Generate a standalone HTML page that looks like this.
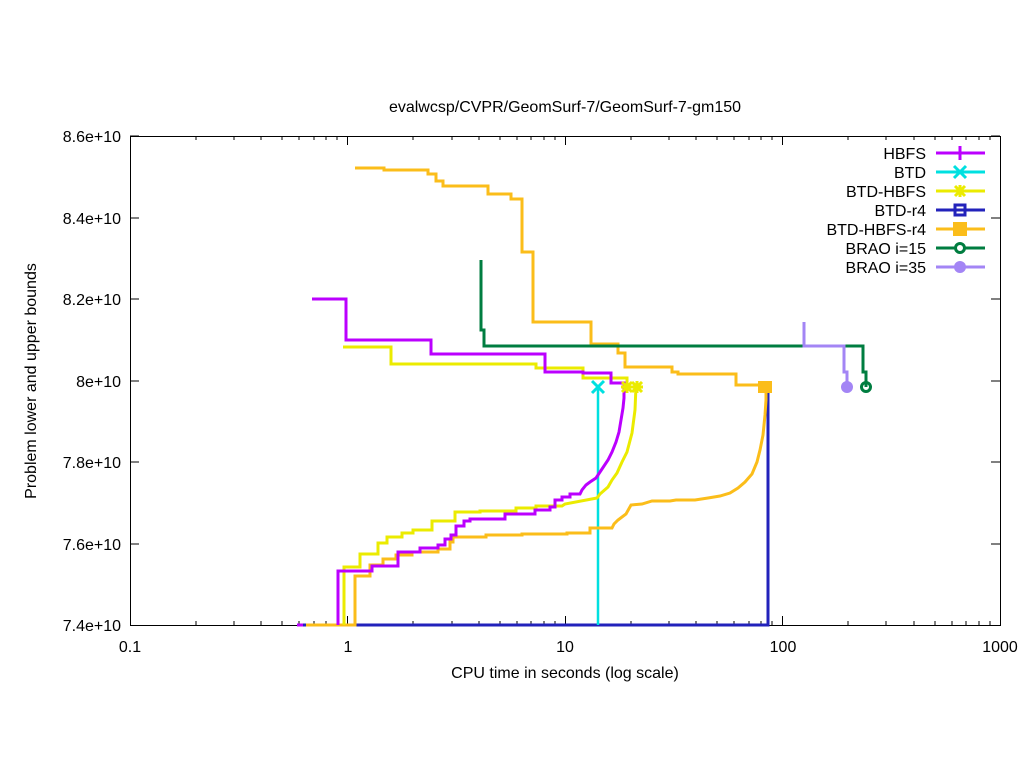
<!DOCTYPE html>
<html><head><meta charset="utf-8"><style>
body{margin:0;background:#fff}
svg{font-family:"Liberation Sans",sans-serif;font-size:16px}
</style></head><body>
<svg width="1024" height="768" xmlns="http://www.w3.org/2000/svg">
<rect width="1024" height="768" fill="#fff"/>
<g stroke="#000" stroke-width="1" fill="none">
<rect x="130.5" y="136.5" width="870" height="489"/>
<path d="M130,136h9M130,218h9M130,299h9M130,381h9M130,462h9M130,544h9M1000,136h-9M1000,218h-9M1000,299h-9M1000,381h-9M1000,462h-9M1000,544h-9"/>
<path d="M130.5,625v-9M347.5,625v-9M565.5,625v-9M782.5,625v-9M1000.5,625v-9M130.5,136v9M347.5,136v9M565.5,136v9M782.5,136v9"/>
<path d="M196,625v-4M234,625v-4M261,625v-4M282,625v-4M299,625v-4M314,625v-4M326,625v-4M337,625v-4M413,625v-4M452,625v-4M479,625v-4M500,625v-4M517,625v-4M531,625v-4M544,625v-4M555,625v-4M631,625v-4M669,625v-4M696,625v-4M717,625v-4M734,625v-4M749,625v-4M761,625v-4M772,625v-4M848,625v-4M886,625v-4M914,625v-4M935,625v-4M952,625v-4M966,625v-4M979,625v-4M990,625v-4
M196,136v4M234,136v4M261,136v4M282,136v4M299,136v4M314,136v4M326,136v4M337,136v4M413,136v4M452,136v4M479,136v4M500,136v4M517,136v4M531,136v4M544,136v4M555,136v4M631,136v4M669,136v4M696,136v4M717,136v4M734,136v4M749,136v4M761,136v4M772,136v4M848,136v4M886,136v4M914,136v4M935,136v4M952,136v4M966,136v4M979,136v4M990,136v4"/>
</g>
<g text-anchor="end">
<text x="121" y="142">8.6e+10</text><text x="121" y="224">8.4e+10</text><text x="121" y="305">8.2e+10</text><text x="121" y="387">8e+10</text><text x="121" y="468">7.8e+10</text><text x="121" y="550">7.6e+10</text><text x="121" y="631">7.4e+10</text>
</g>
<g text-anchor="middle">
<text x="130" y="652">0.1</text><text x="348" y="652">1</text><text x="565" y="652">10</text><text x="783" y="652">100</text><text x="1000" y="652">1000</text>
<text x="565" y="678">CPU time in seconds (log scale)</text>
<text x="565" y="112">evalwcsp/CVPR/GeomSurf-7/GeomSurf-7-gm150</text>
<text transform="translate(36,381) rotate(-90)">Problem lower and upper bounds</text>
</g>
<g fill="none" stroke-width="3">
<polyline stroke="#2222bb" points="297,625 768,625 768,385"/>
<polyline stroke="#00e0e0" stroke-width="2.5" points="598,625 598,387"/>
<polyline stroke="#fbbd1a" points="306,625 355,625 355,576 370,576 370,565 383,565 383,559 396,559 396,555 412,555 412,552 438,552 438,549 450,549 450,542 453,542 453,537 486,537 486,535 522,535 522,534 567,534 567,533 590,533 590,528 612,528 614,524 618,520 626,514 631,505 642,504 652,501 670,501 676,500 695,500 708,498 720,496 730,493 738,488 745,482 752,474 757,462 760,450 763,435 765,415 766,400 766,387"/>
<polyline stroke="#fbbd1a" points="355,168 384,168 384,170 428,170 428,174 436,174 436,181 443,181 443,186 488,186 488,194 511,194 511,199 522,199 522,252 533,252 533,322 591,322 591,344 618,344 618,353 625,353 625,367 672,367 672,372 678,372 678,374 736,374 736,385 766,385"/>
<polyline stroke="#ebeb00" points="343,347 391,347 391,364 536,364 536,368 583,368 583,378 627,378 627,386"/>
<polyline stroke="#ebeb00" points="344,625 344,567 360,567 360,554 378,554 378,543 387,543 387,537 402,537 402,533 413,533 413,530 432,530 432,521 455,521 455,512 480,512 480,511 516,511 516,508 536,508 536,506 562,506 565,504 597,498 600,494 608,487 612,480 617,473 622,462 627,452 632,433 635,410 636,386"/>
<polyline stroke="#bb00ff" points="297,625 303,625"/>
<polyline stroke="#bb00ff" points="338,625 338,571 372,571 372,566 398,566 398,552 420,552 420,548 438,548 438,545 445,545 445,539 451,539 451,535 456,535 456,526 464,526 464,521 470,521 470,519 505,519 505,514 535,514 535,510 550,510 550,507 555,507 555,500 562,500 562,497 570,497 570,494 580,494 582,490 586,485 590,482 596,478 600,472 604,466 608,460 612,452 616,442 619,432 621,420 623,408 624,398 624,385"/>
<polyline stroke="#bb00ff" points="312,299 346,299 346,340 431,340 431,354 545,354 545,372 583,372 583,373 611,373 611,383 624,383 624,386"/>
<polyline stroke="#007d40" points="481,260 481,330 484,330 484,346 863,346 863,372 866,372 866,387"/>
<polyline stroke="#a385f5" points="804,322 804,346 844,346 844,372 847,372 847,387"/>
</g>
<g stroke-width="3">
<path d="M592,381l12,12M604,381l-12,12" stroke="#00e0e0"/>
<path d="M621,387h12M627,381v12M622,382l10,10M632,382l-10,10M631,387h12M637,381v12M632,382l10,10M642,382l-10,10" stroke="#ebeb00"/>
<rect x="758" y="381" width="14" height="12" fill="#fbbd1a"/>
<circle cx="866" cy="387" r="4.5" fill="none" stroke="#007d40"/>
<circle cx="847" cy="387" r="6" fill="#a385f5" stroke="none"/>
</g>
<g text-anchor="end">
<text x="926" y="159">HBFS</text><text x="926" y="178">BTD</text><text x="926" y="197">BTD-HBFS</text><text x="926" y="216">BTD-r4</text><text x="926" y="235">BTD-HBFS-r4</text><text x="926" y="254">BRAO i=15</text><text x="926" y="273">BRAO i=35</text>
</g>
<g stroke-width="3" fill="none">
<path d="M936,153h49" stroke="#bb00ff"/><path d="M960,146v14" stroke="#bb00ff"/>
<path d="M936,172h49M954,166l12,12M966,166l-12,12" stroke="#00e0e0"/>
<path d="M936,191h49M954,191h12M960,185v12M955,186l10,10M965,186l-10,10" stroke="#ebeb00"/>
<path d="M936,210h49" stroke="#2222bb"/><rect x="955" y="205" width="10" height="10" stroke="#2222bb"/>
<path d="M936,229h49" stroke="#fbbd1a"/><rect x="953" y="222" width="14" height="14" fill="#fbbd1a" stroke="none"/>
<path d="M936,248h49" stroke="#007d40"/><circle cx="960" cy="248" r="4.5" stroke="#007d40" fill="#fff"/>
<path d="M936,267h49" stroke="#a385f5"/><circle cx="960" cy="267" r="6" fill="#a385f5" stroke="none"/>
</g>
</svg>
</body></html>
